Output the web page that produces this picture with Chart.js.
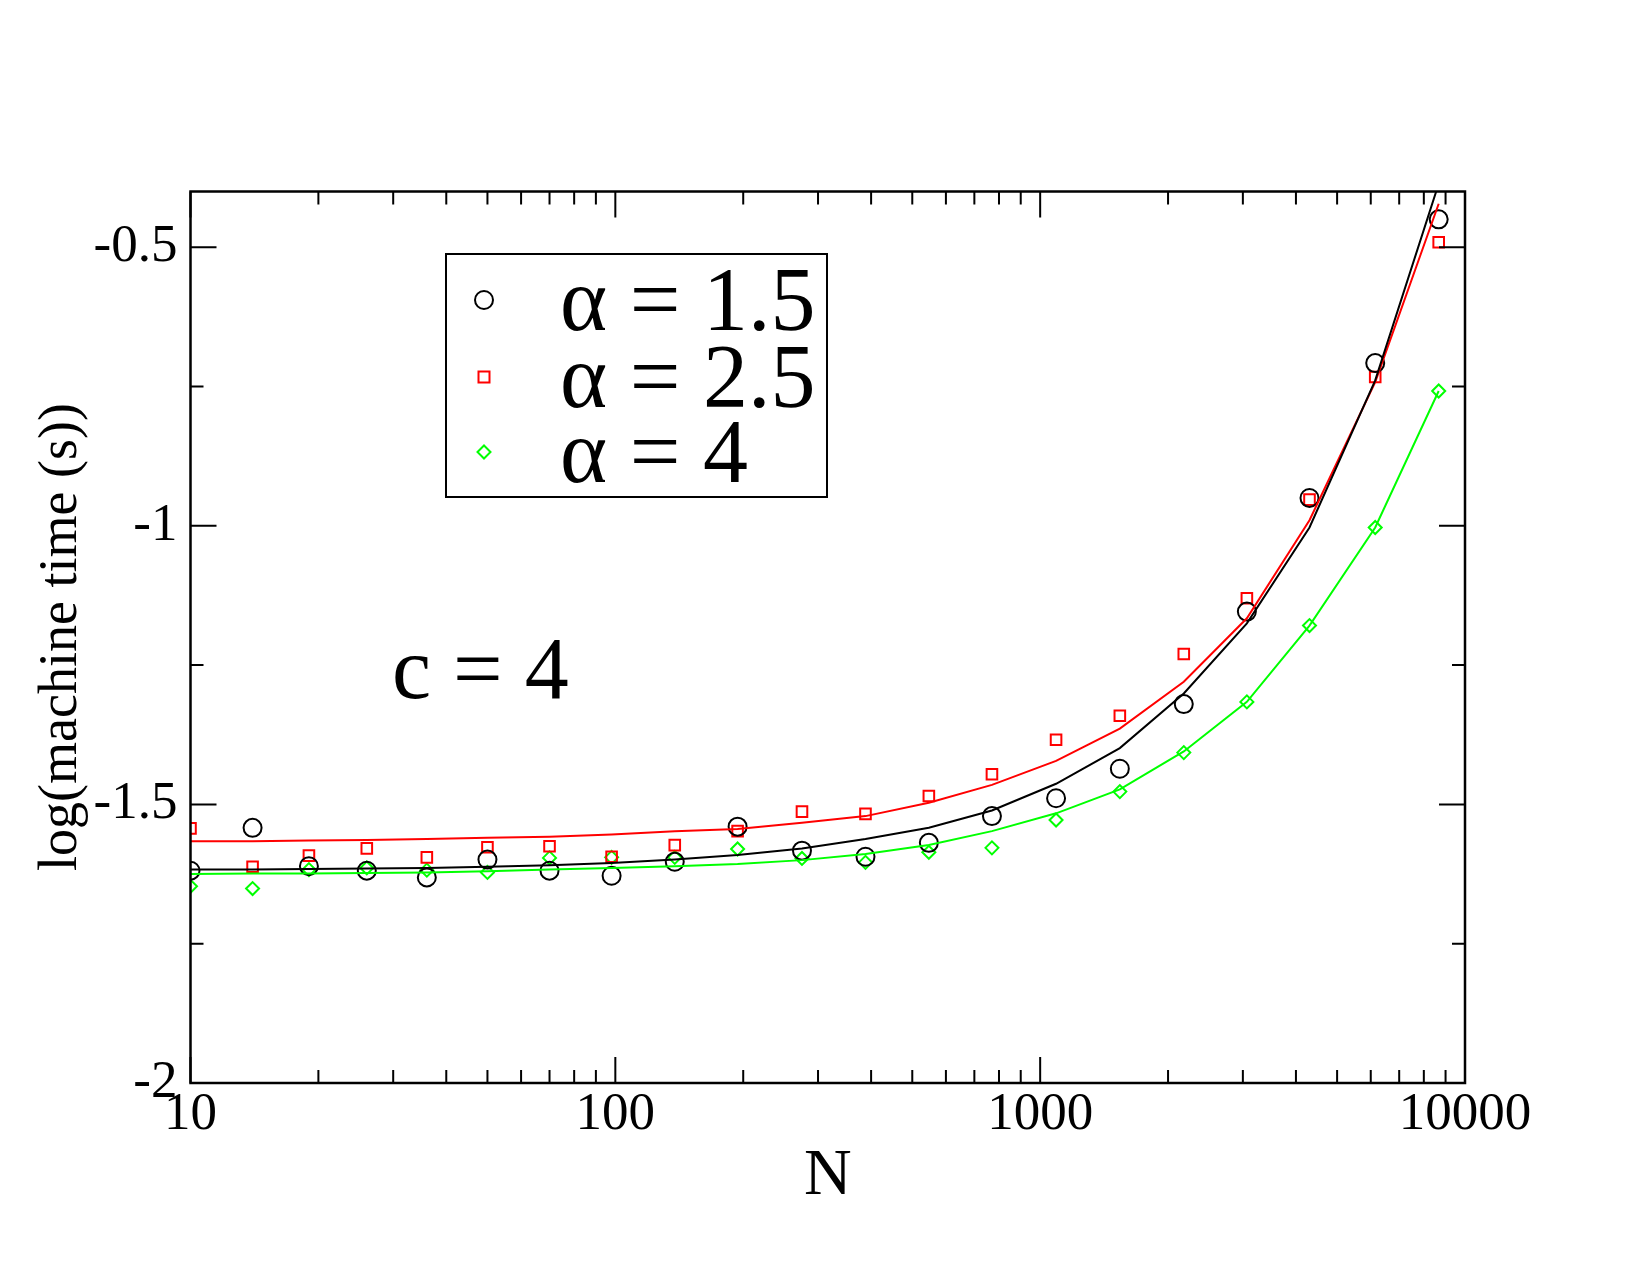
<!DOCTYPE html>
<html>
<head>
<meta charset="utf-8">
<title>machine time vs N</title>
<script src="https://cdn.jsdelivr.net/npm/chart.js@4/dist/chart.umd.min.js"></script>
<style>
  body { margin: 0; background: #fff; }
  canvas { display: block; }
</style>
</head>
<body>
<canvas id="chart" width="1650" height="1275"></canvas>
<script>
// system sizes N (x axis, log)
const sizes = [10, 14, 19, 26, 36, 50, 70, 98, 138, 194, 275, 388, 547, 770, 1090, 1540, 2178, 3066, 4305, 6147, 8671];

// measured log(machine time) points
const alpha15 = [-1.619, -1.542, -1.611, -1.619, -1.631, -1.599, -1.619, -1.628, -1.603, -1.540, -1.583, -1.594, -1.569, -1.521, -1.489, -1.436, -1.320, -1.154, -0.950, -0.708, -0.450];
const alpha25 = [-1.543, -1.612, -1.592, -1.579, -1.595, -1.577, -1.575, -1.594, -1.573, -1.548, -1.513, -1.517, -1.485, -1.446, -1.384, -1.341, -1.230, -1.130, -0.953, -0.733, -0.491];
const alpha4 = [-1.647, -1.651, -1.617, -1.614, -1.618, -1.622, -1.596, -1.595, -1.595, -1.580, -1.597, -1.604, -1.586, -1.578, -1.528, -1.477, -1.407, -1.316, -1.179, -1.003, -0.758];

// fitted curves
const fit15 = [-1.617, -1.617, -1.616, -1.615, -1.614, -1.612, -1.609, -1.605, -1.599, -1.591, -1.579, -1.562, -1.542, -1.511, -1.463, -1.399, -1.301, -1.175, -1.003, -0.739, -0.386];
const fit25 = [-1.566, -1.566, -1.565, -1.564, -1.562, -1.560, -1.558, -1.554, -1.548, -1.544, -1.533, -1.521, -1.497, -1.465, -1.422, -1.364, -1.280, -1.166, -0.990, -0.742, -0.422];
const fit4 = [-1.625, -1.624, -1.624, -1.623, -1.622, -1.620, -1.617, -1.614, -1.611, -1.607, -1.600, -1.589, -1.573, -1.548, -1.516, -1.473, -1.405, -1.316, -1.179, -1.003, -0.758];

const xMajor = [10, 100, 1000, 10000];
const yMajor = [-2, -1.5, -1, -0.5];
const yMinor = [-1.75, -1.25, -0.75];
const legendLabels = ['\u03b1 = 1.5', '\u03b1 = 2.5', '\u03b1 = 4'];

const serif = '"Liberation Serif", "Times New Roman", serif';

function pts(vals) {
  return sizes.map((n, i) => ({ x: n, y: vals[i] }));
}

// frame, inward ticks, legend box and labels
const decorations = {
  id: 'decorations',
  afterDraw(chart) {
    const ctx = chart.ctx;
    const a = chart.chartArea;
    const xs = chart.scales.x;
    const ys = chart.scales.y;
    ctx.save();
    ctx.strokeStyle = '#000';

    // ticks on all four sides
    ctx.lineWidth = 2;
    ctx.beginPath();
    for (let d = 10; d < 10000; d *= 10) {
      for (let m = 1; m <= 10; m++) {
        const px = xs.getPixelForValue(d * m);
        const len = (m === 1 || m === 10) ? 26 : 13;
        ctx.moveTo(px, a.bottom); ctx.lineTo(px, a.bottom - len);
        ctx.moveTo(px, a.top); ctx.lineTo(px, a.top + len);
      }
    }
    yMajor.concat(yMinor).forEach(v => {
      const py = ys.getPixelForValue(v);
      const len = yMajor.includes(v) ? 26 : 13;
      ctx.moveTo(a.left, py); ctx.lineTo(a.left + len, py);
      ctx.moveTo(a.right, py); ctx.lineTo(a.right - len, py);
    });
    ctx.stroke();

    ctx.lineWidth = 2.5;
    ctx.strokeRect(a.left, a.top, a.right - a.left, a.bottom - a.top);

    // legend
    ctx.lineWidth = 2;
    ctx.fillStyle = '#fff';
    ctx.fillRect(446, 254, 381, 243);
    ctx.strokeRect(446, 254, 381, 243);
    const rows = [300, 377, 452];
    const mx = 484;
    ctx.strokeStyle = '#000';
    ctx.beginPath(); ctx.arc(mx, rows[0], 9, 0, Math.PI * 2); ctx.stroke();
    ctx.strokeStyle = '#ff0000';
    ctx.strokeRect(mx - 5.5, rows[1] - 5.5, 11, 11);
    ctx.strokeStyle = '#00ff00';
    ctx.beginPath();
    ctx.moveTo(mx - 6.5, rows[2]); ctx.lineTo(mx, rows[2] - 6.5);
    ctx.lineTo(mx + 6.5, rows[2]); ctx.lineTo(mx, rows[2] + 6.5);
    ctx.closePath(); ctx.stroke();

    ctx.fillStyle = '#000';
    ctx.font = '90px ' + serif;
    ctx.textAlign = 'left';
    ctx.textBaseline = 'alphabetic';
    ctx.fillText(legendLabels[0], 560, 330);
    ctx.fillText(legendLabels[1], 560, 407);
    ctx.fillText(legendLabels[2], 560, 482);

    ctx.font = '88px ' + serif;
    ctx.fillText('c = 4', 392, 698);

    // axis titles
    ctx.font = '66px ' + serif;
    ctx.textAlign = 'center';
    ctx.fillText('N', (a.left + a.right) / 2, 1194);

    ctx.font = '54px ' + serif;
    ctx.translate(76, 637);
    ctx.rotate(-Math.PI / 2);
    ctx.fillText('log(machine time (s))', 0, 0);
    ctx.restore();
  }
};

const ctx = document.getElementById('chart');

new Chart(ctx, {
  type: 'scatter',
  data: {
    datasets: [
      { data: pts(fit15), showLine: true, borderColor: '#000', borderWidth: 2, pointRadius: 0, tension: 0 },
      { data: pts(fit25), showLine: true, borderColor: '#ff0000', borderWidth: 2, pointRadius: 0, tension: 0 },
      { data: pts(fit4), showLine: true, borderColor: '#00ff00', borderWidth: 2, pointRadius: 0, tension: 0 },
      { label: legendLabels[0], data: pts(alpha15), pointStyle: 'circle', pointRadius: 9, borderColor: '#000', backgroundColor: 'transparent', borderWidth: 2 },
      { label: legendLabels[1], data: pts(alpha25), pointStyle: 'rect', pointRadius: 7.5, borderColor: '#ff0000', backgroundColor: 'transparent', borderWidth: 2 },
      { label: legendLabels[2], data: pts(alpha4), pointStyle: 'rectRot', pointRadius: 6.5, borderColor: '#00ff00', backgroundColor: 'transparent', borderWidth: 2 }
    ]
  },
  options: {
    responsive: false,
    animation: false,
    devicePixelRatio: 1,
    layout: { padding: { left: 0, right: 185, top: 191.5, bottom: 0 } },
    plugins: { legend: { display: false }, tooltip: { enabled: false } },
    scales: {
      x: {
        type: 'logarithmic',
        min: 10,
        max: 10000,
        grid: { display: false, drawTicks: false },
        border: { display: false },
        afterBuildTicks: s => { s.ticks = xMajor.map(v => ({ value: v })); },
        afterFit: s => { s.height = 192; },
        ticks: {
          color: '#000',
          padding: 0,
          maxRotation: 0,
          autoSkip: false,
          font: { family: serif, size: 53 },
          callback: v => String(v)
        }
      },
      y: {
        min: -2,
        max: -0.4,
        grid: { display: false, drawTicks: false },
        border: { display: false },
        afterBuildTicks: s => { s.ticks = yMajor.map(v => ({ value: v })); },
        afterFit: s => { s.width = 190.5; },
        ticks: {
          color: '#000',
          padding: 13,
          font: { family: serif, size: 53 },
          callback: v => String(v)
        }
      }
    }
  },
  plugins: [decorations]
});
</script>
</body>
</html>
